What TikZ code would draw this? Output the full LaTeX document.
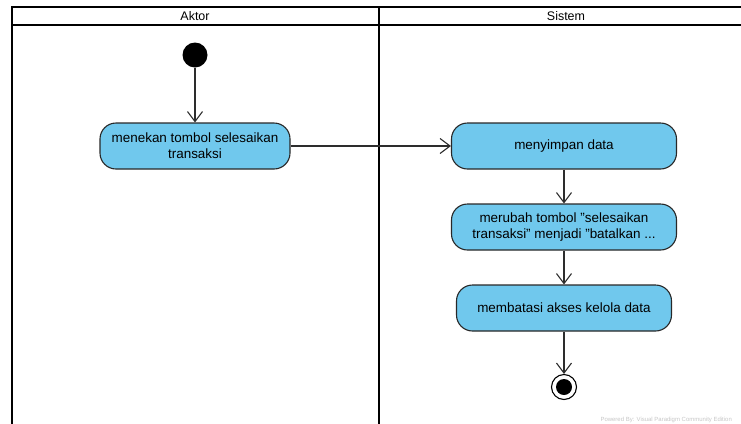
\documentclass[tikz,border=0pt]{standalone}
\usepackage{fontspec}
\setmainfont[Ligatures=NoCommon]{Liberation Sans}
\usetikzlibrary{arrows.meta}
\definecolor{actfill}{RGB}{112,200,237}
\definecolor{actline}{RGB}{40,40,40}
\definecolor{flowline}{RGB}{45,45,45}
\newcommand{\dq}{\symbol{34}}
\tikzset{
  lane/.style={line width=2.2bp, black},
  lanetitle/.style={font=\fontsize{12.5}{14}\selectfont},
  action/.style={draw=actline, line width=1.1bp, fill=actfill, rounded corners=16bp,
    minimum height=46bp, inner sep=0pt, align=center,
    font=\fontsize{13.5}{16}\selectfont},
  startnode/.style={circle, fill=black, minimum size=25bp, inner sep=0pt},
  endnode/.style={circle, draw=black, line width=1.1bp, fill=white, minimum size=25bp, inner sep=0pt},
  flow/.style={draw=flowline, line width=1.1bp, -{Straight Barb[length=10bp,width=15bp,line width=1.1bp]}},
}
\begin{document}
\begin{tikzpicture}[x=1bp,y=-1bp]
  \useasboundingbox (0,0) rectangle (741,423);
  \clip (0,0) rectangle (741,423);
  \fill[white] (0,0) rectangle (741,423);

  % swimlane frame
  \draw[lane] (760,7) -- (12,7) -- (12,440);
  \draw[lane] (12,25) -- (760,25);
  \draw[lane] (379,7) -- (379,440);
  \node[lanetitle] (tAktor) at (195,16) {Aktor};
  \node[lanetitle] (tSistem) at (566,16) {Sistem};

  % activities
  \node[startnode] (start) at (195,55) {};
  \node[action, minimum width=190bp] (a1) at (195,146) {menekan tombol selesaikan\\transaksi};
  \node[action, minimum width=225bp] (a2) at (564,146) {menyimpan data};
  \node[action, minimum width=225bp] (a3) at (564,227) {merubah tombol \dq selesaikan\\transaksi\dq{} menjadi \dq batalkan ...};
  \node[action, minimum width=215bp] (a4) at (564,308) {membatasi akses kelola data};
  \node[endnode] (end) at (564,387) {};
  \fill[black] (end.center) circle (8bp);

  % control flows
  \draw[flow] (start) -- (a1);
  \draw[flow] (a1) -- (a2);
  \draw[flow] (a2) -- (a3);
  \draw[flow] (a3) -- (a4);
  \draw[flow] (a4) -- (end);

  \node[anchor=base west, text=black!22, font=\fontsize{6}{7}\selectfont] (credit) at (597,421) {Powered By: Visual Paradigm Community Edition};
\end{tikzpicture}
\end{document}
